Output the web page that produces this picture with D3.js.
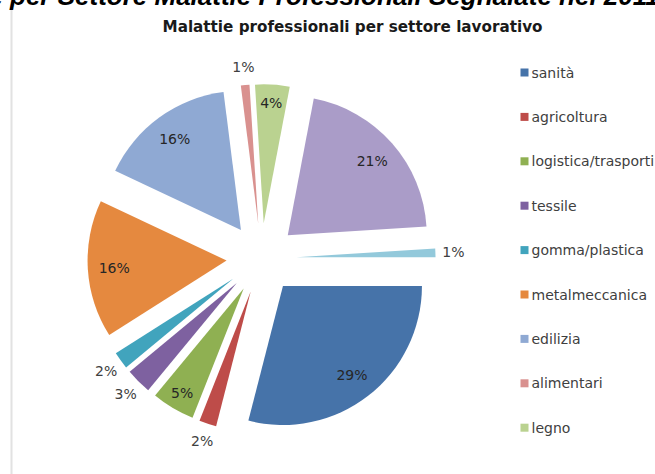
<!DOCTYPE html>
<html>
<head>
<meta charset="utf-8">
<script src="https://cdn.jsdelivr.net/npm/d3@7"></script>
<style>
  html, body { margin: 0; padding: 0; background: #fff; }
  svg { display: block; }
</style>
</head>
<body>
<svg id="chart" width="655" height="474"></svg>
<script>
// Occupational diseases by sector (share of total, %)
const categories = [
  "sanità", "agricoltura", "logistica/trasporti", "tessile", "gomma/plastica",
  "metalmeccanica", "edilizia", "alimentari", "legno", "altri settori", "non determinato"
];
const shares = [29, 2, 5, 3, 2, 16, 16, 1, 4, 21, 1];
const colors = [
  "#4673a9", "#be4c49", "#8fb052", "#7e61a0", "#41a4bd",
  "#e5893f", "#8fa9d3", "#d9918f", "#bad290", "#aa9cc8", "#93c9db"
];
const chartTitle = "Malattie professionali per settore lavorativo";
const pageTitleLead = "Ripartizione";
const pageTitle = "per Settore Malattie Professionali Segnalate nel 2011";

const W = 655, H = 474;
const svg = d3.select("#chart");
svg.append("rect").attr("width", W).attr("height", H).attr("fill", "#fff");

// chart frame edge on the left
svg.append("line")
  .attr("x1", 11.5).attr("x2", 11.5).attr("y1", 8).attr("y2", H)
  .attr("stroke", "#e2e2e2").attr("stroke-width", 2);

// page heading above the chart (only its lower part is inside the frame)
const headFont = "Liberation Sans, Arial, sans-serif";
svg.append("text")
  .attr("x", 3).attr("y", 4.5)
  .attr("text-anchor", "end")
  .attr("font-family", headFont)
  .attr("font-weight", "bold").attr("font-style", "italic")
  .attr("font-size", 26).attr("fill", "#000")
  .text(pageTitleLead);
svg.append("text")
  .attr("x", 10).attr("y", 4.5)
  .attr("font-family", headFont)
  .attr("font-weight", "bold").attr("font-style", "italic")
  .attr("font-size", 26).attr("fill", "#000")
  .text(pageTitle);

// chart title
svg.append("text")
  .attr("x", 352.5).attr("y", 31.5)
  .attr("text-anchor", "middle")
  .attr("font-family", "DejaVu Sans, Verdana, sans-serif")
  .attr("font-weight", "bold").attr("font-size", 15.2)
  .attr("fill", "#1a1a1a")
  .text(chartTitle);

// exploded pie, first slice starting at 3 o'clock, clockwise
const cx = 261.5, cy = 258.3, R = 139, explode = 35;
const pie = d3.pie().sort(null).value(d => d)
  .startAngle(Math.PI / 2).endAngle(Math.PI / 2 + 2 * Math.PI);
const arc = d3.arc().innerRadius(0).outerRadius(R);
const arcs = pie(shares);

const g = svg.append("g").attr("transform", `translate(${cx},${cy})`);
const mid = d => (d.startAngle + d.endAngle) / 2;
const dir = a => [Math.sin(a), -Math.cos(a)];

const slice = g.selectAll("g.slice").data(arcs).enter().append("g")
  .attr("class", "slice")
  .attr("transform", d => {
    const [ux, uy] = dir(mid(d));
    return `translate(${ux * explode},${uy * explode})`;
  });

slice.append("path")
  .attr("d", arc)
  .attr("fill", (d, i) => colors[i]);

// percentage labels: inside for wide slices, outside for thin ones
const labelK = d => d.data >= 10 ? 0.81 : d.data >= 4 ? 0.87 : 1.13;
slice.append("text")
  .attr("x", d => dir(mid(d))[0] * R * labelK(d))
  .attr("y", d => dir(mid(d))[1] * R * labelK(d))
  .attr("dy", "0.36em")
  .attr("text-anchor", "middle")
  .attr("font-family", "DejaVu Sans, Verdana, sans-serif")
  .attr("font-size", 14)
  .attr("fill", d => d.data >= 4 ? "#262626" : "#404040")
  .text(d => d3.format("d")(d.data) + "%");

// legend: rows that fit in the frame
const rowY = d3.scaleLinear().domain([0, 1]).range([72.5, 116.9]);
const legendItems = categories
  .map((c, i) => ({ name: c, color: colors[i], i }))
  .filter(d => rowY(d.i) + 6 <= H);

const leg = svg.append("g").selectAll("g").data(legendItems).enter().append("g")
  .attr("transform", d => `translate(0,${rowY(d.i)})`);
leg.append("rect")
  .attr("x", 520.5).attr("y", -4).attr("width", 8).attr("height", 8)
  .attr("fill", d => d.color);
leg.append("text")
  .attr("x", 531.5).attr("y", 5)
  .attr("font-family", "DejaVu Sans, Verdana, sans-serif")
  .attr("font-size", 14)
  .attr("fill", "#404040")
  .text(d => d.name);
</script>
</body>
</html>
